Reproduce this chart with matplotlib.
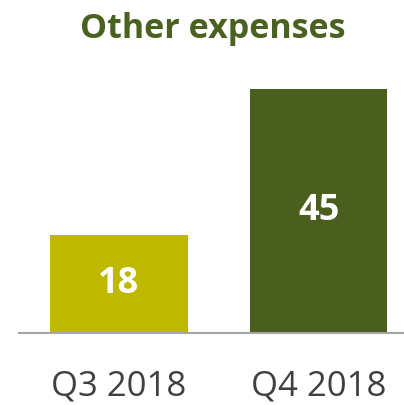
import matplotlib
matplotlib.use("Agg")
import matplotlib.pyplot as plt

# Data
quarters = ["Q3 2018", "Q4 2018"]
values = [18, 45]
bar_colors = ["#BFB800", "#4A5F1E"]

title_color = "#4A6220"
label_color = "#404040"

plt.rcParams["font.family"] = ["Open Sans", "DejaVu Sans"]

fig = plt.figure(figsize=(4.04, 4.05), dpi=100)
ax = fig.add_axes([19 / 404, 72 / 405, 385 / 404, 273 / 405])

x = list(range(len(quarters)))
bars = ax.bar(x, values, width=0.685, color=bar_colors)

# value labels centred in each bar
for xi, v in zip(x, values):
    ax.text(xi, v / 2, str(v), ha="center", va="center",
            color="white", fontsize=26, fontweight="bold")

ax.set_xlim(-0.5, 1.425)
ax.set_ylim(0, 273 / 5.42)

ax.set_xticks(x)
ax.set_xticklabels(quarters, fontsize=25, color=label_color)
ax.tick_params(axis="x", length=0, pad=26)
ax.set_yticks([])

for side in ["top", "left", "right"]:
    ax.spines[side].set_visible(False)
ax.spines["bottom"].set_color("#A6A6A6")
ax.spines["bottom"].set_linewidth(1.5)

fig.text(212.5 / 404, 1 - 38 / 405, "Other expenses", ha="center", va="baseline",
         fontsize=24.5, fontweight="bold", color=title_color)

fig.savefig("out.png", dpi=100)
